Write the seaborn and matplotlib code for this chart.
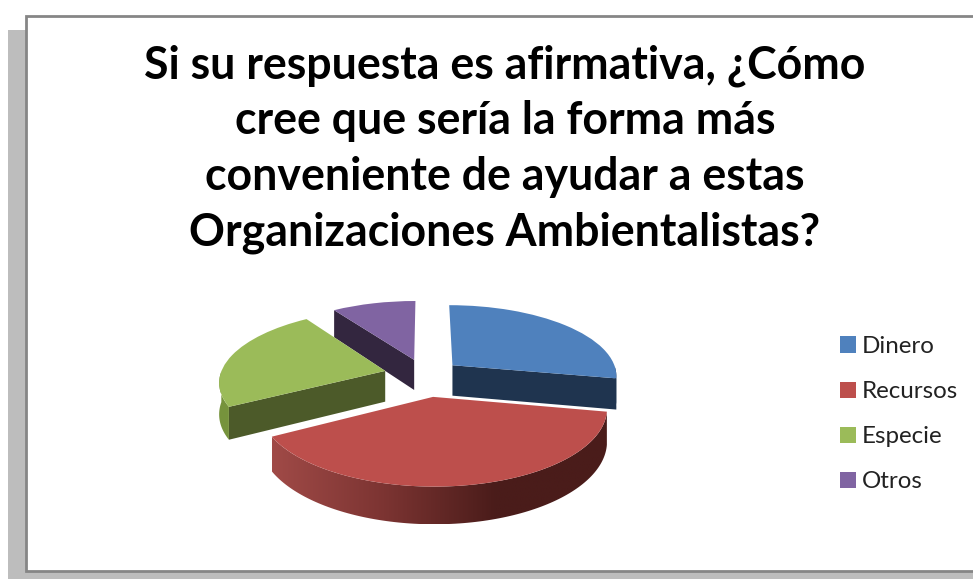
"""Exploded pseudo-3D pie of how to help environmental organisations."""

import matplotlib
matplotlib.use("Agg")
import matplotlib.pyplot as plt
from matplotlib.colors import LinearSegmentedColormap
from matplotlib.patches import Polygon, Rectangle
from matplotlib.transforms import Transform
import numpy as np
import seaborn as sns

labels = ["Dinero", "Recursos", "Especie", "Otros"]
values = [28, 39, 23.5, 9.5]
title = ("Si su respuesta es afirmativa, ¿Cómo\n"
         "cree que sería la forma más\n"
         "conveniente de ayudar a estas\n"
         "Organizaciones Ambientalistas?")

top_colors = ["#4F81BD", "#BD4F4C", "#9BBB59", "#8064A2"]
cut_colors = ["#1F344F", "#4A1C1A", "#4C5A29", "#33263F"]
explode = [0.22, 0.30, 0.25, 0.23]
draw_order = [3, 2, 0, 1]

# tilted view of the unit pie, in pixel coordinates of the figure
CX, CY = 425, 375
RX, RY = 165, 70.8
PERSP = 0.137
DEPTH = 31


def project(u, v, depth=0):
    w = 1 + PERSP * np.asarray(v)
    return np.column_stack([CX + RX * np.asarray(u) / w,
                            CY - (RY * np.asarray(v) - depth) / w])


class Tilt(Transform):
    input_dims = 2
    output_dims = 2

    def transform_non_affine(self, values):
        return project(values[:, 0], values[:, 1])


sns.set_theme(style="white")
plt.rcParams["font.family"] = ["Lato", "DejaVu Sans"]

fig, ax = plt.subplots(figsize=(9.73, 5.79), dpi=100)
fig.subplots_adjust(0, 0, 1, 1)

wedges, _ = ax.pie(values, explode=explode, colors=top_colors, startangle=90,
                   counterclock=False, wedgeprops=dict(linewidth=0))

for z, i in enumerate(draw_order, start=2):
    wedge = wedges[i]
    wedge.set_transform(Tilt() + ax.transData)
    wedge.set_zorder(z + 0.5)
    c_u, c_v = wedge.center
    t = np.radians(np.linspace(wedge.theta1, wedge.theta2, 120))
    t = t[np.sin(t) <= 0]

    # straight cut facing the viewer
    cut = np.radians(wedge.theta1 if i == 0 else wedge.theta2)
    if i != 1:
        rim_u, rim_v = c_u + np.cos(cut), c_v + np.sin(cut)
        pts = np.vstack([project([c_u, rim_u], [c_v, rim_v]),
                         project([rim_u, c_u], [rim_v, c_v], DEPTH)])
        ax.add_patch(Polygon(pts, closed=True, fc=cut_colors[i], lw=0, zorder=z))

    # outer rim, front part only
    if len(t) > 1:
        arc_u, arc_v = c_u + np.cos(t), c_v + np.sin(t)
        pts = np.vstack([project(arc_u, arc_v),
                         project(arc_u[::-1], arc_v[::-1], DEPTH)])
        if i == 1:
            rim = Polygon(pts, closed=True, fc="none", lw=0, zorder=z)
            ax.add_patch(rim)
            cmap = LinearSegmentedColormap.from_list(
                "rim", ["#A04A47", "#7C3432", "#4A1C1A", "#4A1C1A"])
            im = ax.imshow(np.linspace(0, 1, 256)[None, :], cmap=cmap, aspect="auto",
                           extent=(pts[:, 0].min(), pts[:, 0].max(),
                                   pts[:, 1].max(), pts[:, 1].min()),
                           interpolation="bilinear", zorder=z)
            im.set_clip_path(rim)
        else:
            ax.add_patch(Polygon(pts, closed=True,
                                 fc="#76933C" if i == 2 else cut_colors[i],
                                 lw=0, zorder=z))

# shadow and card behind the chart
ax.add_patch(Rectangle((8, 30), 970, 560, fc="#BDBDBD", lw=0, zorder=0))
ax.add_patch(Rectangle((25.5, 15.5), 960, 555, fc="white", ec="#868686", lw=2, zorder=1))

ax.text(505, 149, title, ha="center", va="center", fontsize=32.1, fontweight="bold",
        color="black", linespacing=1.40, zorder=10)

ax.legend(wedges, labels, loc="upper left", bbox_to_anchor=(840 / 973, 1 - 336 / 579),
          frameon=False, fontsize=17.4, handlelength=0.66, handleheight=0.66,
          handletextpad=0.25, labelspacing=1.0, borderpad=0, borderaxespad=0,
          labelcolor="#222222").set_zorder(10)

ax.set_aspect("auto")
ax.set_xlim(0, 973)
ax.set_ylim(579, 0)
ax.axis("off")

fig.savefig("out.png", dpi=100)
